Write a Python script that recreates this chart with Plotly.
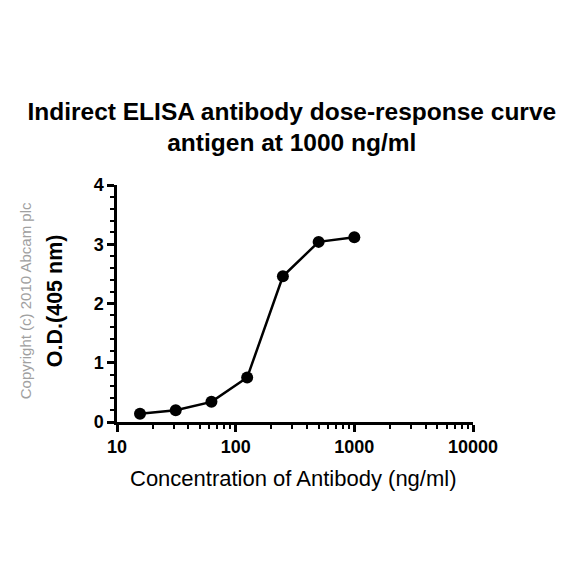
import plotly.graph_objects as go

concentration = [15.625, 31.25, 62.5, 125, 250, 500, 1000]
od_405 = [0.14, 0.20, 0.34, 0.75, 2.46, 3.04, 3.12]
x_tick_vals = [10, 100, 1000, 10000]
x_tick_text = ["10", "100", "1000", "10000"]
y_tick_vals = [0, 1, 2, 3, 4]

FONT = "Liberation Sans, Arial, sans-serif"

fig = go.Figure()
fig.add_trace(go.Scatter(
    x=concentration, y=od_405, mode="lines+markers",
    line=dict(color="black", width=2.5),
    marker=dict(color="black", size=12),
    showlegend=False,
))

fig.update_layout(
    width=584, height=584,
    margin=dict(l=109, r=119, t=177, b=170),
    paper_bgcolor="white", plot_bgcolor="white",
    title=dict(
        text="<b>Indirect ELISA antibody dose-response curve<br>antigen at 1000 ng/ml</b>",
        xref="container", yref="container",
        x=0.486, xanchor="center", y=0.809, yanchor="middle",
        font=dict(family=FONT, size=24.5, color="black"),
    ),
    font=dict(family=FONT, color="black"),
)

fig.update_xaxes(
    type="log", range=[1, 4],
    tickvals=x_tick_vals, ticktext=x_tick_text,
    showline=True, linecolor="black", linewidth=2.5,
    ticks="outside", ticklen=7, tickwidth=2.5, tickcolor="black",
    tickfont=dict(family=FONT, size=18, color="black", weight="bold"),
    showgrid=False, zeroline=False,
    minor=dict(ticks="outside", ticklen=4, tickwidth=2, tickcolor="black", dtick="D1", showgrid=False),
)
fig.update_yaxes(
    range=[0, 4],
    tickvals=y_tick_vals,
    showline=True, linecolor="black", linewidth=2.5,
    ticks="outside", ticklen=7, tickwidth=2.5, tickcolor="black",
    tickfont=dict(family=FONT, size=18, color="black", weight="bold"),
    showgrid=False, zeroline=False,
    minor=dict(ticks="outside", ticklen=4, tickwidth=2, tickcolor="black", dtick=0.2, showgrid=False),
)

fig.add_annotation(
    text="Concentration of Antibody (ng/ml)",
    xref="paper", yref="paper", x=0.497, y=-0.239, xanchor="center", yanchor="middle",
    showarrow=False, font=dict(family=FONT, size=22, color="black"),
)
fig.add_annotation(
    text="<b>O.D.(405 nm)</b>",
    xref="paper", yref="paper", x=-0.174, y=0.51, xanchor="center", yanchor="middle",
    textangle=-90, showarrow=False, font=dict(family=FONT, size=21.5, color="black"),
)
fig.add_annotation(
    text="Copyright (c) 2010 Abcam plc",
    xref="paper", yref="paper", x=-0.258, y=0.51, xanchor="center", yanchor="middle",
    textangle=-90, showarrow=False,
    font=dict(family=FONT, size=15, color="#a0a0a0"),
)

fig.write_html("out.html")
